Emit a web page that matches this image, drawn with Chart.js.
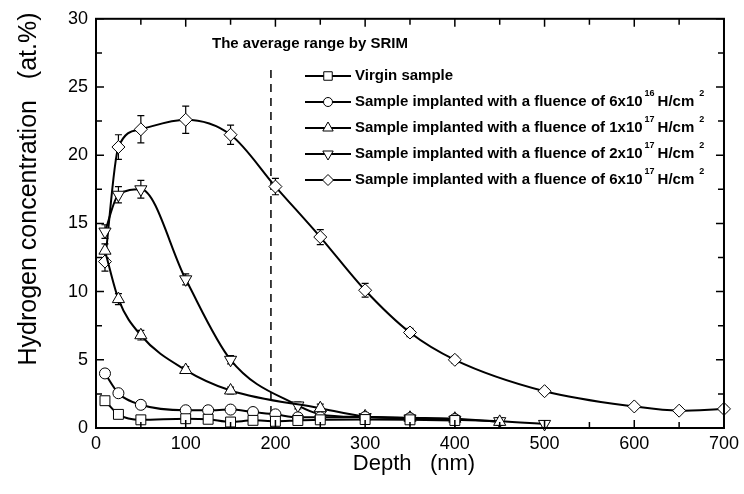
<!DOCTYPE html>
<html>
<head>
<meta charset="utf-8">
<script src="https://cdn.jsdelivr.net/npm/chart.js@4.4.1/dist/chart.umd.min.js"></script>
<style>
  html, body { margin: 0; padding: 0; background: #fff; }
  #wrap { width: 744px; height: 494px; }
</style>
</head>
<body>
<div id="wrap"><canvas id="chart" width="744" height="494"></canvas></div>
<script>
// Depth (nm) for each series
const depthVirgin = [10, 25, 50, 100, 125, 150, 175, 200, 225, 250, 300, 350, 400];
const depth6e16 = [10, 25, 50, 100, 125, 150, 175, 200, 225, 250, 300, 350, 400];
const depth1e17 = [10, 25, 50, 100, 150, 250, 300, 350, 400, 450];
const depth2e17 = [10, 25, 50, 100, 150, 225, 250, 300, 350, 400, 450, 500];
const depth6e17 = [10, 25, 50, 100, 150, 200, 250, 300, 350, 400, 500, 600, 650, 700];

// Hydrogen concentration (at.%)
const hVirgin = [2.0, 1.0, 0.6, 0.68, 0.64, 0.44, 0.56, 0.49, 0.55, 0.6, 0.62, 0.6, 0.55];
const h6e16 = [4.0, 2.55, 1.7, 1.3, 1.3, 1.35, 1.17, 1.0, 0.78, 0.78, 0.8, 0.72, 0.65];
const h1e17 = [13.0, 9.45, 6.8, 4.25, 2.75, 1.45, 0.85, 0.75, 0.68, 0.45];
const h2e17 = [14.4, 17.1, 17.5, 10.9, 5.0, 1.65, 1.0, 0.8, 0.7, 0.6, 0.5, 0.3];
const h6e17 = [12.2, 20.6, 21.9, 22.6, 21.5, 17.7, 14.0, 10.1, 7.0, 5.0, 2.7, 1.58, 1.27, 1.4];

// error bars (+/-)
const errVirgin = [0.25, 0.25, 0.25, 0.25, 0.25, 0.25, 0.25, 0.25, 0.2, 0.2, 0.2, 0.2, 0.2];
const err6e16 = [0.25, 0.25, 0.25, 0.25, 0.25, 0.25, 0.25, 0.25, 0.2, 0.2, 0.2, 0.2, 0.2];
const err1e17 = [0.5, 0.4, 0.35, 0.25, 0.25, 0.3, 0.25, 0.25, 0.25, 0.25];
const err2e17 = [0.5, 0.6, 0.65, 0.4, 0.3, 0.25, 0.2, 0.2, 0.2, 0.2, 0.25, 0.25];
const err6e17 = [0.7, 0.9, 1.0, 1.0, 0.7, 0.6, 0.55, 0.5, 0.3, 0.25, 0.2, 0.2, 0.2, 0.2];

// legend labels: [text, superscript, text, superscript]
const legendLabels = [
  ["Virgin sample", "", "", ""],
  ["Sample implanted with a fluence of 6x10", "16", "H/cm", "2"],
  ["Sample implanted with a fluence of 1x10", "17", "H/cm", "2"],
  ["Sample implanted with a fluence of 2x10", "17", "H/cm", "2"],
  ["Sample implanted with a fluence of 6x10", "17", "H/cm", "2"]
];

const xTicks = [0, 100, 200, 300, 400, 500, 600, 700];
const yTicks = [0, 5, 10, 15, 20, 25, 30];

// SRIM average range marker
const srimDepth = 195;
const srimTop = 26.6;
const srimLabel = "The average range by SRIM";

const xTitle = "Depth   (nm)";
const yTitle = "Hydrogen concentration   (at.%)";

function toPoints(xs, ys) {
  return xs.map((x, i) => ({ x: x, y: ys[i] }));
}

const markers = [
  { style: "rect", rot: 0, r: 7 },
  { style: "circle", rot: 0, r: 5.5 },
  { style: "triangle", rot: 0, r: 7 },
  { style: "triangle", rot: 180, r: 7 },
  { style: "rectRot", rot: 0, r: 6.5 }
];

const seriesList = [
  { x: depthVirgin, y: hVirgin, err: errVirgin },
  { x: depth6e16, y: h6e16, err: err6e16 },
  { x: depth1e17, y: h1e17, err: err1e17 },
  { x: depth2e17, y: h2e17, err: err2e17 },
  { x: depth6e17, y: h6e17, err: err6e17 }
];

const datasets = seriesList.map((s, i) => ({
  label: legendLabels[i].join(""),
  data: toPoints(s.x, s.y),
  borderColor: "#000",
  borderWidth: 2,
  backgroundColor: "#fff",
  pointStyle: markers[i].style,
  rotation: markers[i].rot,
  pointRadius: markers[i].r,
  pointBorderWidth: 1,
  pointBorderColor: "#000",
  pointBackgroundColor: "#fff",
  cubicInterpolationMode: "monotone",
  errors: s.err,
  clip: false,
  order: i
}));

// dashed SRIM line
datasets.push({
  label: "srim",
  data: [{ x: srimDepth, y: 0 }, { x: srimDepth, y: srimTop }],
  borderColor: "#000",
  borderWidth: 1.5,
  borderDash: [8, 6],
  pointRadius: 0,
  order: 10
});

const font = "'Liberation Sans', Arial, Helvetica, sans-serif";

// draws error bars, inward ticks, frame, legend and titles
const decorPlugin = {
  id: "decor",
  beforeDatasetsDraw(chart) {
    const ctx = chart.ctx;
    const xs = chart.scales.x;
    const ys = chart.scales.y;
    ctx.save();
    ctx.strokeStyle = "#000";
    ctx.lineWidth = 1.2;
    chart.data.datasets.forEach(ds => {
      if (!ds.errors) return;
      ds.data.forEach((p, i) => {
        const px = xs.getPixelForValue(p.x);
        const top = ys.getPixelForValue(p.y + ds.errors[i]);
        const bot = ys.getPixelForValue(p.y - ds.errors[i]);
        ctx.beginPath();
        ctx.moveTo(px, top); ctx.lineTo(px, bot);
        ctx.moveTo(px - 3.5, top); ctx.lineTo(px + 3.5, top);
        ctx.moveTo(px - 3.5, bot); ctx.lineTo(px + 3.5, bot);
        ctx.stroke();
      });
    });
    ctx.restore();
  },
  afterDatasetsDraw(chart) {
    const ctx = chart.ctx;
    const a = chart.chartArea;
    const xs = chart.scales.x;
    const ys = chart.scales.y;
    ctx.save();
    ctx.strokeStyle = "#000";
    // frame
    ctx.lineWidth = 2;
    ctx.strokeRect(a.left, a.top, a.right - a.left, a.bottom - a.top);
    // inward ticks
    ctx.lineWidth = 1.5;
    for (let v = 0; v <= 700; v += 50) {
      const px = xs.getPixelForValue(v);
      const len = v % 100 === 0 ? 8 : 6;
      ctx.beginPath();
      ctx.moveTo(px, a.bottom); ctx.lineTo(px, a.bottom - len);
      ctx.moveTo(px, a.top); ctx.lineTo(px, a.top + len);
      ctx.stroke();
    }
    for (let v = 0; v <= 30; v += 2.5) {
      const py = ys.getPixelForValue(v);
      const len = v % 5 === 0 ? 8 : 6;
      ctx.beginPath();
      ctx.moveTo(a.left, py); ctx.lineTo(a.left + len, py);
      ctx.moveTo(a.right, py); ctx.lineTo(a.right - len, py);
      ctx.stroke();
    }

    // SRIM label
    ctx.fillStyle = "#000";
    ctx.font = "bold 15px " + font;
    ctx.textAlign = "left";
    ctx.textBaseline = "middle";
    ctx.fillText(srimLabel, 212, 44);

    // legend
    const lx = 305, ly = 76, step = 26;
    legendLabels.forEach((parts, i) => {
      const y = ly + i * step;
      ctx.strokeStyle = "#000";
      ctx.lineWidth = 2;
      ctx.beginPath();
      ctx.moveTo(lx, y); ctx.lineTo(lx + 46, y);
      ctx.stroke();
      ctx.lineWidth = 1;
      ctx.fillStyle = "#fff";
      Chart.helpers.drawPoint(ctx, {
        pointStyle: markers[i].style,
        rotation: markers[i].rot,
        radius: markers[i].r - 1,
        borderWidth: 1
      }, lx + 23, y);
      ctx.fillStyle = "#000";
      let tx = lx + 50;
      ctx.font = "bold 15px " + font;
      ctx.textAlign = "left";
      ctx.textBaseline = "middle";
      ctx.fillText(parts[0], tx, y);
      tx += ctx.measureText(parts[0]).width + 2;
      if (parts[1]) {
        ctx.font = "bold 9px " + font;
        ctx.fillText(parts[1], tx, y - 8);
        tx += ctx.measureText(parts[1]).width + 3;
        ctx.font = "bold 15px " + font;
        ctx.fillText(parts[2], tx, y);
        tx += ctx.measureText(parts[2]).width + 5;
        ctx.font = "bold 9px " + font;
        ctx.fillText(parts[3], tx, y - 8);
      }
    });

    // axis titles
    ctx.fillStyle = "#000";
    ctx.font = "22px " + font;
    ctx.textAlign = "center";
    ctx.textBaseline = "middle";
    ctx.fillText(xTitle, 414, 464);
    ctx.font = "25px " + font;
    ctx.translate(29, 189);
    ctx.rotate(-Math.PI / 2);
    ctx.fillText(yTitle, 0, 0);
    ctx.restore();
  }
};

const chart = new Chart(document.getElementById("chart"), {
  type: "line",
  data: { datasets: datasets },
  options: {
    responsive: false,
    animation: false,
    layout: { padding: { top: 16, right: 16, left: 0, bottom: 0 } },
    plugins: {
      legend: { display: false },
      tooltip: { enabled: false }
    },
    scales: {
      x: {
        type: "linear",
        min: 0,
        max: 700,
        afterBuildTicks: s => { s.ticks = xTicks.map(v => ({ value: v })); },
        grid: { display: false, drawTicks: false },
        border: { display: false },
        ticks: { color: "#000", padding: 5, font: { family: font, size: 18 } },
        afterFit: s => { s.height = 66; }
      },
      y: {
        type: "linear",
        min: 0,
        max: 30,
        afterBuildTicks: s => { s.ticks = yTicks.map(v => ({ value: v })); },
        grid: { display: false, drawTicks: false },
        border: { display: false },
        ticks: { color: "#000", padding: 8, font: { family: font, size: 18 } },
        afterFit: s => { s.width = 96; }
      }
    }
  },
  plugins: [decorPlugin]
});
</script>
</body>
</html>
